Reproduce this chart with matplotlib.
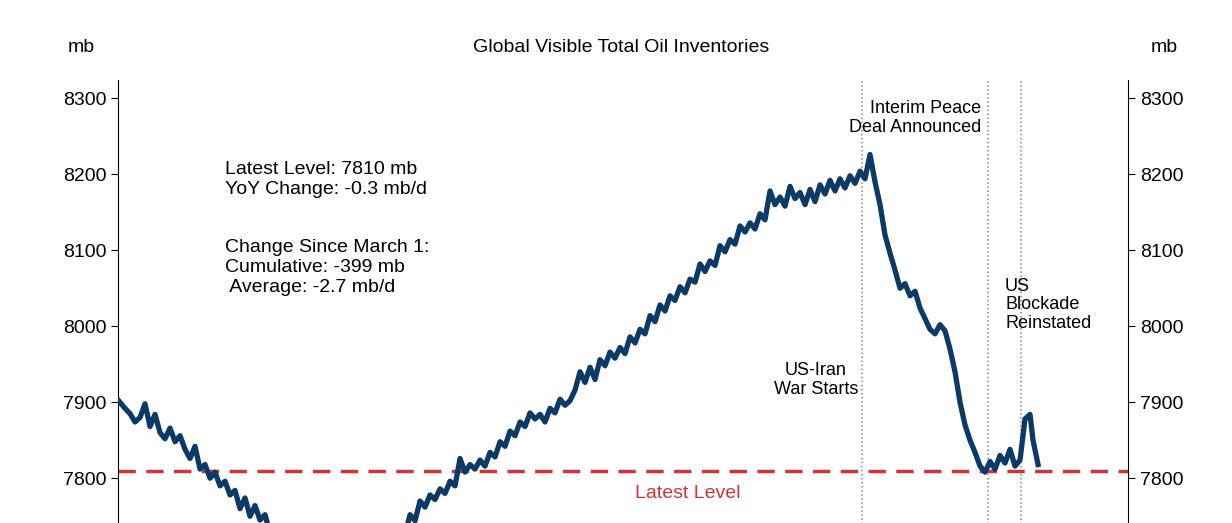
import numpy as np
import matplotlib.pyplot as plt

plt.rcParams['font.family'] = ['Liberation Sans', 'DejaVu Sans']

# day index (arbitrary daily scale) and inventory level, mb
days = [0, 7, 12, 17, 22, 27, 32, 37, 42, 47, 52, 57, 62, 67, 72, 77, 82, 87, 92, 97,
        102, 107, 112, 117, 122, 127, 132, 137, 142, 147, 152, 157, 162, 167, 172,
        177, 182, 187, 192, 197, 202, 207, 212, 217, 222, 227, 232, 237, 242, 247,
        252, 257, 262, 267, 272, 277, 282, 287, 292, 297, 302, 307, 312, 317, 322,
        327, 332, 337, 342, 347, 352, 357, 362, 367, 372, 377, 382, 387, 392, 397,
        402, 407, 412, 417, 422, 427, 432, 437, 442, 447, 452, 457, 462, 467, 472,
        477, 482, 487, 492, 497, 502, 507, 512, 517, 522, 527, 532, 537, 542, 547,
        552, 557, 562, 567, 572, 577, 582, 587, 592, 597, 602, 607, 612, 617, 622,
        627, 632, 637, 642, 647, 652, 657, 662, 667, 672, 677, 682, 687, 692, 697,
        702, 707, 712, 717, 722, 727, 732, 737, 742, 747, 752, 757, 762, 767, 772,
        777, 782, 787, 792, 797, 802, 807, 812, 817, 822, 827, 832, 837, 842, 847,
        852, 857, 862, 867, 872, 877, 882, 887, 892, 897, 902, 907, 912, 915, 920]
level = [7903, 7892, 7885, 7874, 7880, 7898, 7868, 7884, 7860, 7852, 7866, 7848, 7856,
         7838, 7826, 7842, 7812, 7818, 7800, 7808, 7790, 7796, 7778, 7784, 7760, 7774,
         7750, 7764, 7745, 7752, 7728, 7736, 7712, 7722, 7700, 7710, 7695, 7705, 7690,
         7702, 7688, 7698, 7692, 7686, 7696, 7690, 7704, 7694, 7700, 7688, 7702,
         7696, 7710, 7704, 7720, 7712, 7730, 7726, 7752, 7744, 7770, 7762, 7778, 7772,
         7786, 7780, 7796, 7790, 7826, 7808, 7818, 7812, 7824, 7816, 7834, 7828, 7848,
         7842, 7862, 7856, 7874, 7868, 7886, 7878, 7884, 7874, 7892, 7886, 7904, 7896,
         7902, 7916, 7940, 7926, 7946, 7930, 7956, 7948, 7966, 7958, 7972, 7964, 7986,
         7978, 7996, 7990, 8014, 8006, 8028, 8020, 8040, 8034, 8052, 8044, 8062, 8058,
         8082, 8072, 8086, 8080, 8106, 8098, 8114, 8108, 8132, 8124, 8136, 8128, 8148,
         8140, 8178, 8160, 8170, 8158, 8184, 8168, 8176, 8160, 8180, 8164, 8186, 8174,
         8192, 8178, 8194, 8182, 8198, 8188, 8204, 8194, 8226, 8190, 8160, 8120, 8096,
         8074, 8050, 8056, 8040, 8046, 8024, 8010, 7996, 7990, 8002, 7994, 7970, 7940,
         7900, 7870, 7850, 7834, 7816, 7808, 7822, 7812, 7830, 7820, 7838, 7816, 7824,
         7878, 7884, 7850, 7818]

latest = 7810
war_start = 744
peace_deal = 870
blockade = 903

fig = plt.figure(figsize=(12.32, 5.23), dpi=100)
ax = fig.add_axes([0.0958, -0.205, 0.8198, 1.052])
ax.plot(days, level, color='#0b3a66', linewidth=3.8, zorder=3)
ax.axhline(latest, color='#d0343a', linestyle=(0, (5, 3)), linewidth=2.5, zorder=2)
for d in [war_start, peace_deal, blockade]:
    ax.axvline(d, color='#888888', linestyle=':', linewidth=1.1, zorder=1)

ax.set_xlim(0, 1010)
ax.set_ylim(7600, 8324)
ax.set_yticks([7600, 7700, 7800, 7900, 8000, 8100, 8200, 8300])
ax.set_xticks([])
for s in ['top', 'bottom', 'right']:
    ax.spines[s].set_visible(False)
ax.tick_params(axis='y', labelsize=14, length=5)

ax2 = ax.twinx()
ax2.set_ylim(ax.get_ylim())
ax2.set_yticks(ax.get_yticks())
for s in ['top', 'bottom', 'left']:
    ax2.spines[s].set_visible(False)
ax2.tick_params(axis='y', labelsize=14, length=5)

fig.text(0.504, 0.91, 'Global Visible Total Oil Inventories', ha='center', va='center', fontsize=14)
fig.text(0.066, 0.91, 'mb', ha='center', va='center', fontsize=14)
fig.text(0.945, 0.91, 'mb', ha='center', va='center', fontsize=14)

ax.text(107, 8218, 'Latest Level: 7810 mb\nYoY Change: -0.3 mb/d', va='top', fontsize=14, linespacing=1.25)
ax.text(107, 8115, 'Change Since March 1:\nCumulative: -399 mb\n Average: -2.7 mb/d', va='top',
        fontsize=14, linespacing=1.25)
ax.text(740, 7905, 'US-Iran\nWar Starts', ha='right', va='bottom', multialignment='center', fontsize=13)
ax.text(863, 8250, 'Interim Peace\nDeal Announced', ha='right', va='bottom', multialignment='right', fontsize=13)
ax.text(887, 7993, 'US\nBlockade\nReinstated', ha='left', va='bottom', fontsize=13, linespacing=1.1)
ax.text(570, 7780, 'Latest Level', ha='center', va='center', color='#d0343a', fontsize=14)

fig.savefig('out.png', dpi=100)
